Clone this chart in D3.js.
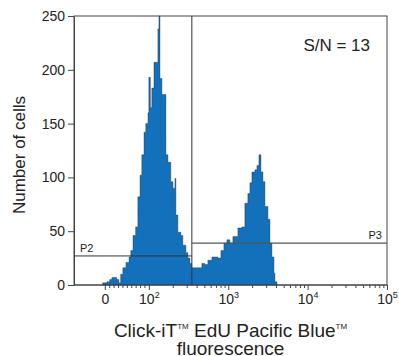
<!DOCTYPE html>
<html><head><meta charset="utf-8">
<script src="https://cdn.jsdelivr.net/npm/d3@7"></script>
<style>
body{margin:0;background:#fff}
text{font-family:"Liberation Sans",Arial,Helvetica,sans-serif;fill:#222}
</style>
</head><body>
<svg id="chart" width="399" height="356"></svg>
<script>
// ---- data ----
const binStart = [-5,5,11,16,23,27,32,36,41,48,55,59,64,70,75,80,84,89,93,98,100,104.5,109,116,130,134,138,146,164,174,189,201,213,219,232,253,268,293,310,329,348,465,508,554,623,742,809,882,962,1049,1144,1323,1484,1620,1766,1875,1988,2168,2298,2436,2582,2736,2900,3164,3353,3553,3766,3877,4108];
const counts   = [2,3,5,7,7,5,2,10,16,21,26,32,46,54,82,102,121,142,150,160,193,165,183,207,238,250,192,177,121,114,96,90,99,65,49,46,37,30,25,20,16,20,19,23,26,25,32,39,42,39,45,53,54,76,85,95,105,107,111,121,105,96,73,61,39,26,11,3,0];
const yTicks = [0,50,100,150,200,250];
const xMajorTicks = [0,100,1000,10000,100000];
const xMajorBase = ["0","10","10","10","10"];
const xMajorExp  = ["","2","3","4","5"];
const xMinorTicks = [10,20,30,40,50,60,70,80,90,200,300,400,500,600,700,800,900,2000,3000,4000,5000,6000,7000,8000,9000,20000,30000,40000,50000,60000,70000,80000,90000];
const gateX = 348;          // vertical gate position
const p2Level = 27, p3Level = 39;
const gateLabels = ["P2","P3"];
const annotation = "S/N = 13";
const yTitle = "Number of cells";

// ---- layout ----
const L = 74, R = 387, T = 16, B = 285;
const svg = d3.select("#chart");

// logicle-like transform: linear below 100, log above
const k = 0.5547;
const tf = v => v < 100 ? v / 100 * k : k + Math.log10(v / 100);
const xs = d3.scaleLinear().domain([tf(-70), tf(100000)]).range([L, R]);
const x = v => xs(tf(v));
const y = d3.scaleLinear().domain([0, 250]).range([B, T]);

// histogram
const pts = binStart.map((v, i) => [v, counts[i]]);
const area = d3.area().x(d => x(d[0])).y0(y(0)).y1(d => y(d[1])).curve(d3.curveStepAfter);
svg.append("path").datum(pts).attr("d", area)
  .attr("fill", "#1370ba").attr("stroke", "#2a2a2a").attr("stroke-width", 0.7).attr("stroke-opacity", 0.55);

// frame
svg.append("rect").attr("x", L).attr("y", T).attr("width", R - L).attr("height", B - T)
  .attr("fill", "none").attr("stroke", "#444").attr("stroke-width", 1);

// y axis
const ya = svg.append("g").attr("transform", `translate(${L},0)`)
  .call(d3.axisLeft(y).tickValues(yTicks).tickSize(6).tickSizeOuter(0).tickPadding(3));
ya.selectAll("path,line").attr("stroke", "#444");
ya.selectAll("text").style("font-size", "14px").attr("fill", "#222");

// x axis major
const xa = svg.append("g").attr("transform", `translate(0,${B})`)
  .call(d3.axisBottom(xs).tickValues(xMajorTicks.map(tf)).tickSize(5).tickSizeOuter(0).tickFormat(() => ""));
xa.select("path").remove();
xa.selectAll("line").attr("stroke", "#444");
xa.selectAll(".tick text").each(function(d, i) {
  const t = d3.select(this).attr("y", 9).attr("dy", "0.71em").style("font-size", "14px").attr("fill", "#222");
  t.append("tspan").text(xMajorBase[i]);
  if (xMajorExp[i]) t.append("tspan").text(xMajorExp[i]).attr("dy", "-6").style("font-size", "9px");
});
// x axis minor
const xm = svg.append("g").attr("transform", `translate(0,${B})`)
  .call(d3.axisBottom(xs).tickValues(xMinorTicks.map(tf)).tickSize(3).tickSizeOuter(0).tickFormat(() => ""));
xm.select("path").remove();
xm.selectAll("line").attr("stroke", "#444");
svg.append("line").attr("x1", L).attr("x2", R).attr("y1", B).attr("y2", B).attr("stroke", "#444");

// gates
svg.append("line").attr("x1", x(gateX)).attr("x2", x(gateX)).attr("y1", T).attr("y2", B)
  .attr("stroke", "#333").attr("stroke-width", 1);
svg.append("line").attr("x1", L).attr("x2", x(gateX)).attr("y1", y(p2Level)).attr("y2", y(p2Level))
  .attr("stroke", "#333").attr("stroke-width", 1);
svg.append("line").attr("x1", x(gateX)).attr("x2", R).attr("y1", y(p3Level)).attr("y2", y(p3Level))
  .attr("stroke", "#555").attr("stroke-width", 1.2);
svg.append("text").attr("x", L + 6).attr("y", y(p2Level) - 4).text(gateLabels[0]).style("font-size", "11px");
svg.append("text").attr("x", R - 5).attr("y", y(p3Level) - 4).attr("text-anchor", "end").text(gateLabels[1]).style("font-size", "11px");

// annotation
svg.append("text").attr("x", 370).attr("y", 51).attr("text-anchor", "end").text(annotation).style("font-size", "17px");

// axis titles
svg.append("text").attr("transform", "translate(25,155) rotate(-90)").attr("text-anchor", "middle")
  .text(yTitle).style("font-size", "17px");
const xt = svg.append("text").attr("x", (L + R) / 2).attr("y", 337).attr("text-anchor", "middle").style("font-size", "19px");
xt.append("tspan").text("Click-iT");
xt.append("tspan").text("TM").attr("dy", -8).style("font-size", "8px");
xt.append("tspan").text(" EdU Pacific Blue").attr("dy", 8);
xt.append("tspan").text("TM").attr("dy", -8).style("font-size", "8px");
svg.append("text").attr("x", (L + R) / 2).attr("y", 355).attr("text-anchor", "middle").style("font-size", "19px").text("fluorescence");
</script>
</body></html>
